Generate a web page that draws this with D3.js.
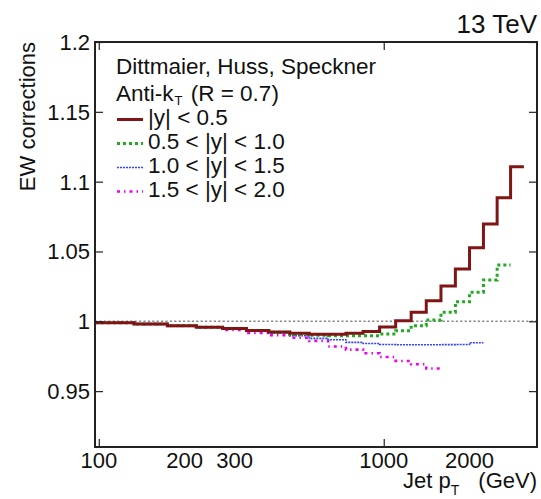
<!DOCTYPE html>
<html>
<head>
<meta charset="utf-8">
<script src="https://cdn.jsdelivr.net/npm/d3@7"></script>
<style>
  html, body { margin: 0; padding: 0; background: white; }
  text { font-family: 'Liberation Sans', Arial, sans-serif; }
</style>
</head>
<body>
<div id="container"></div>
<script>
// bin edges (GeV) and EW correction per bin
let edges = [97, 133, 174, 220, 272, 330, 395, 468, 548, 638, 737, 846, 967,
             1101, 1248, 1410, 1588, 1784, 2000, 2238, 2500, 2787, 3103];
let y05 = [0.9990, 0.9980, 0.9968, 0.9957, 0.9948, 0.9934, 0.9923, 0.9914, 0.9908, 0.9908,
           0.9915, 0.9927, 0.9959, 1.0004, 1.0064, 1.0148, 1.0253, 1.0374, 1.0527, 1.0697,
           1.0885, 1.1107];
let y10 = [0.9990, 0.9980, 0.9968, 0.9957, 0.9948, 0.9934, 0.9921, 0.9906, 0.9900, 0.9897,
           0.9897, 0.9897, 0.9909, 0.9933, 0.9969, 1.0009, 1.0064, 1.0140, 1.0208, 1.0296,
           1.0403];
let y15 = [0.9990, 0.9980, 0.9968, 0.9957, 0.9945, 0.9930, 0.9914, 0.9897, 0.9878, 0.9868,
           0.9849, 0.9841, 0.9834, 0.9832, 0.9832, 0.9832, 0.9833, 0.9834, 0.9847];
let y20 = [0.9990, 0.9980, 0.9966, 0.9957, 0.9938, 0.9916, 0.9900, 0.9882, 0.9860, 0.9820,
           0.9797, 0.9771, 0.9744, 0.9716, 0.9692, 0.9662];

let seriesNames = ['|y| < 0.5', '0.5 < |y| < 1.0', '1.0 < |y| < 1.5', '1.5 < |y| < 2.0'];
let xLabelTicks = [100, 200, 300, 1000, 2000];
let xMajorTicks = [100, 1000];
let xMinorTicks = [200, 300, 400, 500, 600, 700, 800, 900, 2000, 3000];
let yLabelTicks = [0.95, 1, 1.05, 1.1, 1.15, 1.2];

let w = 541,
    h = 499;

let viz = d3.select('#container')
    .append('svg')
      .attr('width', w)
      .attr('height', h)
      .style('background', 'white');

let pl = 95, pr = 537, pt = 42, pb = 447;

let x = d3.scaleLog().domain([97, 3450]).range([pl, pr]);
let y = d3.scaleLinear().domain([0.91, 1.2]).range([pb, pt]);

let styles = [
    {color: '#801515', width: 3, dash: null},
    {color: '#22aa22', width: 3, dash: '3,3'},
    {color: '#3344ee', width: 1.6, dash: '2,1'},
    {color: '#ee00ee', width: 2.6, dash: '3,4,1.5,4'}
];
let allSeries = [y05, y10, y15, y20];

function main() {
    // reference line at 1
    viz.append('line')
        .attr('x1', pl).attr('x2', pr)
        .attr('y1', y(1)).attr('y2', y(1))
        .attr('stroke', '#888')
        .attr('stroke-width', 1.6)
        .attr('stroke-dasharray', '2.2,2.2');

    let step = d3.line()
        .x(d => x(d[0]))
        .y(d => y(d[1]))
        .curve(d3.curveStepAfter);

    // draw from last to first so the red line is on top
    for (let i = allSeries.length - 1; i >= 0; i--) {
        let vals = allSeries[i];
        let pts = vals.map((v, k) => [edges[k], v]);
        pts.push([edges[vals.length], vals[vals.length - 1]]);
        viz.append('path')
            .attr('d', step(pts))
            .attr('fill', 'none')
            .attr('stroke', styles[i].color)
            .attr('stroke-width', styles[i].width)
            .attr('stroke-dasharray', styles[i].dash);
    }

    // axes, ROOT style ticks inside on all sides
    let fmt = d => String(+d.toFixed(2));
    let gx = viz.append('g').attr('transform', 'translate(0,' + pb + ')');
    gx.call(d3.axisBottom(x).tickValues(xMinorTicks).tickSize(-4).tickFormat(''));
    gx.call(d3.axisBottom(x).tickValues(xMajorTicks).tickSize(-8).tickFormat(''));
    let gxt = viz.append('g').attr('transform', 'translate(0,' + pt + ')');
    gxt.call(d3.axisTop(x).tickValues(xMinorTicks).tickSize(-4).tickFormat(''));
    gxt.call(d3.axisTop(x).tickValues(xMajorTicks).tickSize(-8).tickFormat(''));

    let yMinor = d3.range(92, 120).map(d => d / 100);
    let gy = viz.append('g').attr('transform', 'translate(' + pl + ',0)');
    gy.call(d3.axisLeft(y).tickValues(yMinor).tickSize(-4).tickFormat(''));
    gy.call(d3.axisLeft(y).tickValues(yLabelTicks).tickSize(-8).tickFormat(''));
    let gyr = viz.append('g').attr('transform', 'translate(' + pr + ',0)');
    gyr.call(d3.axisRight(y).tickValues(yMinor).tickSize(-4).tickFormat(''));
    gyr.call(d3.axisRight(y).tickValues(yLabelTicks).tickSize(-8).tickFormat(''));

    viz.selectAll('.domain').remove();
    viz.selectAll('.tick line').attr('stroke', '#222').attr('stroke-width', 1.2);

    viz.append('rect')
        .attr('x', pl).attr('y', pt)
        .attr('width', pr - pl).attr('height', pb - pt)
        .attr('fill', 'none')
        .attr('stroke', '#222')
        .attr('stroke-width', 2);

    // tick labels
    viz.append('g').selectAll('text').data(xLabelTicks).enter()
        .append('text')
          .attr('x', d => x(d))
          .attr('y', 468)
          .attr('text-anchor', 'middle')
          .attr('font-size', 22)
          .attr('fill', '#111')
          .text(d => d);
    viz.append('g').selectAll('text').data(yLabelTicks).enter()
        .append('text')
          .attr('x', 90)
          .attr('y', d => y(d) + 8)
          .attr('text-anchor', 'end')
          .attr('font-size', 22)
          .attr('fill', '#111')
          .text(fmt);

    // axis titles
    viz.append('text')
        .attr('transform', 'translate(35,' + pt + ') rotate(-90)')
        .attr('text-anchor', 'end')
        .attr('font-size', 22)
        .attr('fill', '#111')
        .text('EW corrections');

    let xt = viz.append('text')
        .attr('x', 537).attr('y', 488)
        .attr('text-anchor', 'end')
        .attr('font-size', 22)
        .attr('fill', '#111');
    xt.append('tspan').text('Jet p');
    xt.append('tspan').attr('dy', 7).attr('font-size', 14).text('T');
    xt.append('tspan').attr('dy', -7).attr('dx', 19).text('(GeV)');

    viz.append('text')
        .attr('x', 537).attr('y', 33)
        .attr('text-anchor', 'end')
        .attr('font-size', 26)
        .attr('fill', '#111')
        .text('13 TeV');

    // legend
    let leg = viz.append('g').attr('font-size', 22.5).attr('fill', '#111');
    leg.append('text').attr('x', 116).attr('y', 74).text('Dittmaier, Huss, Speckner');
    let ak = leg.append('text').attr('x', 116).attr('y', 101);
    ak.append('tspan').text('Anti-k');
    ak.append('tspan').attr('dy', 4).attr('dx', 1).attr('font-size', 13).text('T');
    ak.append('tspan').attr('dy', -4).attr('dx', 2).text(' (R = 0.7)');

    seriesNames.forEach((name, i) => {
        let by = 124.5 + i * 24;
        leg.append('line')
            .attr('x1', 117).attr('x2', 143)
            .attr('y1', by - 5).attr('y2', by - 5)
            .attr('stroke', styles[i].color)
            .attr('stroke-width', styles[i].width)
            .attr('stroke-dasharray', styles[i].dash);
        leg.append('text').attr('x', 148).attr('y', by).text(name);
    });
}

main();
</script>
</body>
</html>
